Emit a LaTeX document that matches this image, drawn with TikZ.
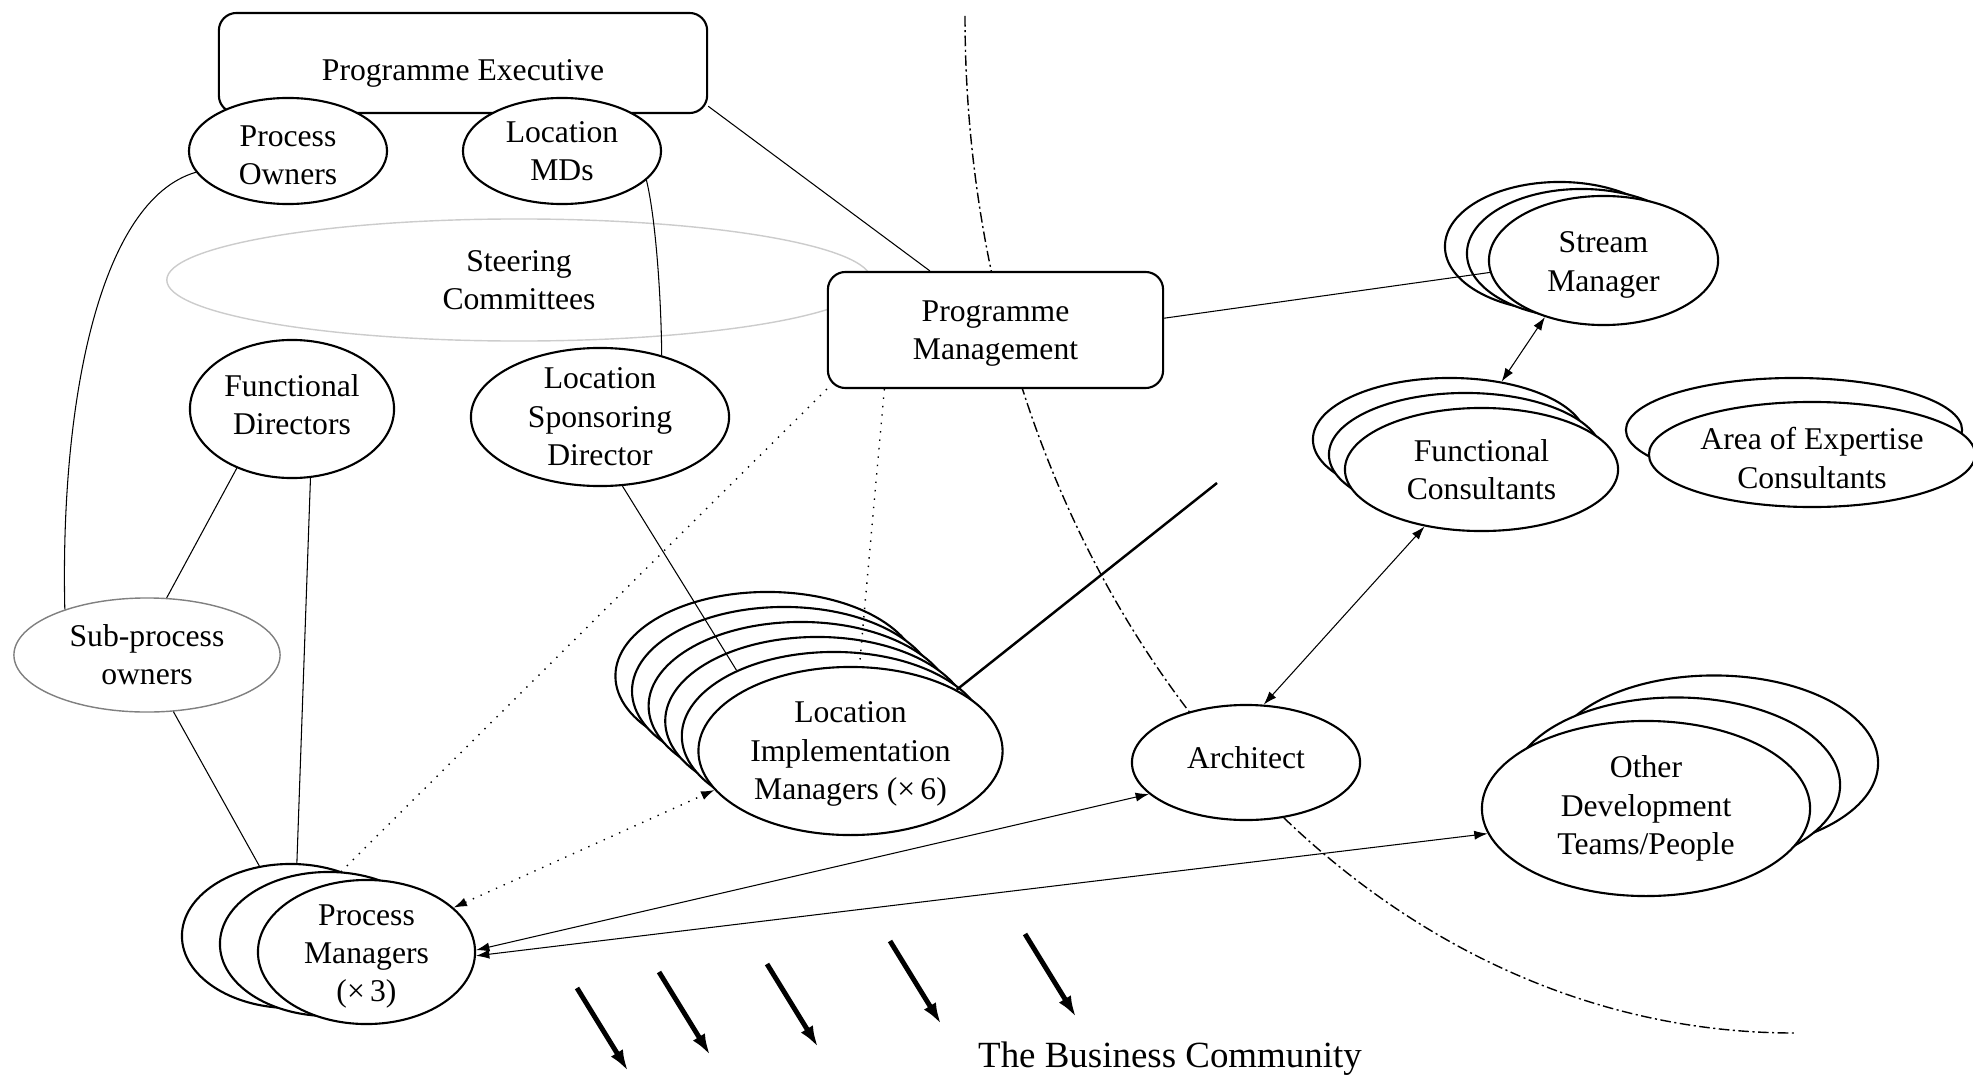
\documentclass[tikz,border=0pt]{standalone}
\usepackage{fontspec}
\setmainfont{Liberation Serif}
\usepackage{tikz}
\usetikzlibrary{arrows.meta,shapes.geometric}
\newcommand{\topstrut}[1][8.4pt]{\rule{0pt}{#1}}
\newcommand{\botstrut}{\rule[-2.6pt]{0pt}{0pt}}

\begin{document}
\begin{tikzpicture}[>={Latex[length=3.8pt,width=2.6pt]},x=0.01cm,y=-0.01cm,font=\fontsize{9}{10.9}\selectfont]
	\tikzstyle{ell}=[ellipse,draw,fill=white,line width=0.6pt,align=center,inner xsep=0pt,inner ysep=-3pt]
	\tikzstyle{box}=[draw,fill=white,rounded corners=5pt,line width=0.6pt,align=center]
	\tikzstyle{link}=[line width=0.3pt]
	\tikzstyle{dotlink}=[line width=0.4pt,dotted]
	\tikzstyle{bigarrow}=[line width=1.4pt,-{Latex[length=6pt,width=4pt]}]
	\tikzstyle{smell}=[ell,minimum width=2.29cm,minimum height=1.29cm]
	\tikzstyle{fcell}=[ell,minimum width=2.73cm,minimum height=1.23cm]
	\tikzstyle{odtell}=[ell,minimum width=3.28cm,minimum height=1.75cm]
	\tikzstyle{pmgell}=[ell,minimum width=2.17cm,minimum height=1.44cm]
	\tikzstyle{limell}=[ell,minimum width=3.04cm,minimum height=1.68cm]
	\useasboundingbox (0,0) rectangle (1973,1076);
	\draw[line width=0.4pt,dash pattern=on 3pt off 1pt on 0.6pt off 1pt] (965,16) .. controls (965,578) and (1336,1033) .. (1794,1033);
	\node[ell,draw=black!20,line width=0.4pt,minimum width=7.04cm,minimum height=1.22cm] (sc) at (519,280) {Steering\\Committees};
	\node[box,minimum width=4.88cm,minimum height=1.0cm] (pe) at (463,63) {\raisebox{-5pt}[0pt][0pt]{Programme Executive}};
	\node[ell,minimum width=1.98cm,minimum height=1.06cm] (po) at (288,151) {\topstrut Process\\Owners};
	\node[ell,minimum width=1.98cm,minimum height=1.06cm] (lmd) at (562,151) {Location\\MDs};
	\node[box,minimum width=3.35cm,minimum height=1.16cm] (pgm) at (995.5,330) {\topstrut[7.8pt]Programme\\Management};
	\node[ell,minimum width=2.04cm,minimum height=1.38cm] (fd) at (292,409) {Functional\\Directors\botstrut};
	\node[ell,minimum width=2.58cm,minimum height=1.38cm] (lsd) at (600,417) {Location\\Sponsoring\\Director};
	\node[ell,draw=black!50,line width=0.4pt,minimum width=2.66cm,minimum height=1.14cm] (spo) at (147,655) {Sub-process\\owners};
	\node[smell] (sm2) at (1559.5,246.5) {};
	\node[smell] (sm1) at (1581.5,253.5) {};
	\node[smell] (sm) at (1603.5,260.5) {\topstrut Stream\\Manager};
	\node[fcell] (fc2) at (1449.5,439.5) {};
	\node[fcell] (fc1) at (1465.5,454.5) {};
	\node[fcell] (fc) at (1481.5,469.5) {Functional\\Consultants};
	\node[ell,minimum width=3.36cm,minimum height=1.04cm] (aec1) at (1794,430) {};
	\node[ell,minimum width=3.26cm,minimum height=1.05cm] (aec) at (1812,454.5) {\topstrut Area of Expertise\\Consultants};
	\foreach \i in {5,...,1}
		\node[limell] (lim\i) at ({850.5-16.6*\i},{751-15*\i}) {};
	\node[limell] (lim) at (850.5,751) {\topstrut[7.8pt]Location\\Implementation\\Managers (×\,6)};
	\node[ell,minimum width=2.28cm,minimum height=1.15cm] (arch) at (1246,762.5) {Architect\botstrut};
	\node[odtell] (odt2) at (1714,763) {};
	\node[odtell] (odt1) at (1676,785) {};
	\node[odtell] (odt) at (1646,808.5) {Other\\Development\\Teams/People};
	\node[pmgell] (pmg2) at (290.5,936) {};
	\node[pmgell] (pmg1) at (328.5,944) {};
	\node[pmgell] (pmg) at (366.5,952) {\topstrut Process\\Managers\\(×\,3)};
	\node[font=\fontsize{10.5}{12}\selectfont] (bc) at (1170,1059) {The Business Community};
	\draw[link] (pe.-10) -- (pgm.138);
	\draw[link] (po.193) .. controls (100,200) and (60,400) .. (spo.151);
	\draw[link] (lmd.-19) .. controls (655,215) and (661,290) .. (lsd.45);
	\draw[link] (fd.227) -- (spo.71);
	\draw[link] (fd.-75) -- (pmg2.85);
	\draw[link] (spo.-65) -- (pmg2.114);
	\draw[dotlink] (pgm.south west) -- (pmg1.80);
	\draw[dotlink] (pgm.208) -- (lim.84);
	\draw[link] (lsd.-72) -- (lim1.146);
	\coordinate (limend) at (1217,483);
	\draw[line width=0.7pt] (lim.30) -- (limend);
	\draw[link] (pgm.4) -- (sm.186);
	\draw[link,<->] (sm.224) -- (fc2.48);
	\draw[link,<->] (arch.73) -- (fc.225);
	\draw[dotlink,<->] (pmg.27) -- (lim.196);
	\draw[link,<->] (pmg.1) -- (arch.198);
	\draw[link,<->] (pmg.-2) -- (odt.189);
	\foreach \x/\y [count=\i] in {577/988,659/972,767/964,890/941,1025/934} {
		\coordinate (ba\i) at (\x,\y);
		\coordinate (bb\i) at (\x+51,\y+83);
		\draw[bigarrow] (ba\i) -- (bb\i);
	}
\end{tikzpicture}
\end{document}
